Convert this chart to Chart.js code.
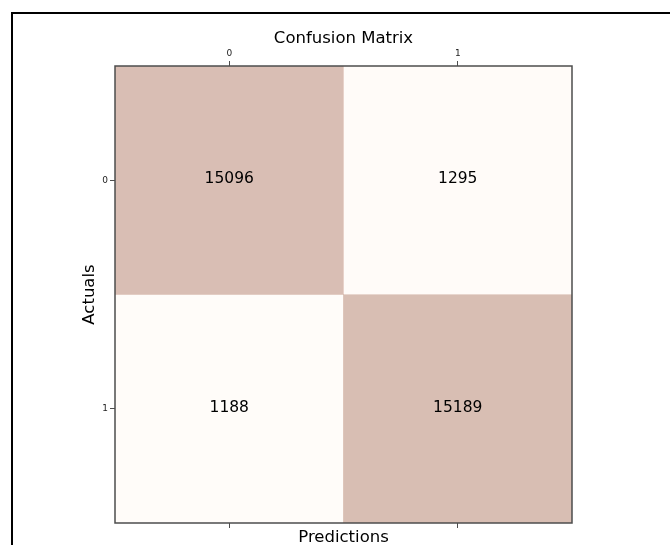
<!DOCTYPE html>
<html>
<head>
<meta charset="utf-8">
<script src="https://cdn.jsdelivr.net/npm/chart.js@4.4.0/dist/chart.umd.min.js"></script>
<style>
  html, body { margin: 0; padding: 0; background: #fff; overflow: hidden; width: 670px; height: 545px; }
  #c { position: absolute; left: 0; top: 0; }
  #frame {
    position: absolute; left: 11px; top: 12px; width: 900px; height: 900px;
    border-top: 2px solid #000; border-left: 2px solid #000;
    box-sizing: border-box; pointer-events: none;
  }
</style>
</head>
<body>
<canvas id="c" width="670" height="545"></canvas>
<div id="frame"></div>
<script>
// Class labels along each axis
const predictedLabels = ['0', '1'];
const actualLabels = ['0', '1'];

// Counts per actual class (row), one entry per predicted class (column)
const actual0Counts = [15096, 1295];
const actual1Counts = [1188, 15189];

const FONT = '"DejaVu Sans", "Liberation Sans", sans-serif';

// Oranges colormap end points, shown at 30% opacity
const LOW = [255, 245, 235];
const HIGH = [127, 39, 4];

const rows = [actual0Counts, actual1Counts];
const allCounts = rows.flat();
const lo = Math.min(...allCounts);
const hi = Math.max(...allCounts);

function cellColor(v) {
  const t = (v - lo) / (hi - lo);
  const c = LOW.map((l, i) => Math.round(l + (HIGH[i] - l) * t));
  return `rgba(${c[0]}, ${c[1]}, ${c[2]}, 0.3)`;
}

// Each actual class is one dataset of floating bars spanning its row
const datasets = rows.map((counts, r) => ({
  label: actualLabels[r],
  data: counts.map(() => [r - 0.5, r + 0.5]),
  counts: counts,
  backgroundColor: counts.map(cellColor),
  borderWidth: 0,
  barPercentage: 1,
  categoryPercentage: 1,
  xAxisID: 'x',
  yAxisID: 'y'
}));

// Frame around the matrix plus the count written in each cell
const cellText = {
  id: 'cellText',
  afterDatasetsDraw(chart) {
    const { ctx, chartArea: a } = chart;
    ctx.save();
    ctx.strokeStyle = '#4d4d4d';
    ctx.lineWidth = 1.5;
    ctx.strokeRect(a.left, a.top, a.right - a.left, a.bottom - a.top);
    ctx.font = '15.5px ' + FONT;
    ctx.fillStyle = '#000';
    ctx.textAlign = 'center';
    ctx.textBaseline = 'middle';
    chart.data.datasets.forEach((ds, i) => {
      chart.getDatasetMeta(i).data.forEach((bar, j) => {
        const p = bar.getCenterPoint();
        ctx.fillText(String(ds.counts[j]), p.x, p.y - 1);
      });
    });
    ctx.restore();
  }
};

const tickGrid = {
  offset: false,
  drawOnChartArea: false,
  drawTicks: true,
  tickLength: 5,
  color: '#4d4d4d',
  lineWidth: 1
};

new Chart(document.getElementById('c'), {
  type: 'bar',
  data: { labels: predictedLabels, datasets },
  plugins: [cellText],
  options: {
    responsive: false,
    animation: false,
    events: [],
    layout: { padding: { left: 78, right: 98, top: 0, bottom: 0 } },
    plugins: {
      legend: { display: false },
      tooltip: { enabled: false },
      title: {
        display: true,
        text: 'Confusion Matrix',
        fullSize: false,
        color: '#000',
        font: { family: FONT, size: 16.5, weight: 'normal', lineHeight: 1.2 },
        padding: { top: 28.6, bottom: 0 }
      }
    },
    scales: {
      x: {
        type: 'category',
        position: 'bottom',
        stacked: true,
        offset: true,
        grid: tickGrid,
        border: { display: false },
        ticks: { display: false },
        title: {
          display: true,
          text: 'Predictions',
          color: '#000',
          font: { family: FONT, size: 16.5, lineHeight: 0.9 },
          padding: 0
        },
        afterFit: (s) => { s.height = 22; }
      },
      xTop: {
        type: 'category',
        position: 'top',
        offset: true,
        grid: tickGrid,
        border: { display: false },
        ticks: { color: '#222', padding: 2, font: { family: FONT, size: 9 } },
        afterFit: (s) => { s.height = 17.6; }
      },
      y: {
        type: 'linear',
        position: 'left',
        reverse: true,
        stacked: false,
        min: -0.5,
        max: 1.5,
        grid: tickGrid,
        border: { display: false },
        afterBuildTicks: (s) => { s.ticks = actualLabels.map((_, i) => ({ value: i })); },
        ticks: {
          color: '#222',
          padding: 2,
          font: { family: FONT, size: 9 },
          callback: (v) => actualLabels[v]
        },
        title: {
          display: true,
          text: 'Actuals',
          color: '#000',
          font: { family: FONT, size: 16.5, lineHeight: 1.2 },
          padding: { top: 2, bottom: 0 }
        },
        afterFit: (s) => { s.width = 37; }
      }
    }
  }
});
</script>
</body>
</html>
